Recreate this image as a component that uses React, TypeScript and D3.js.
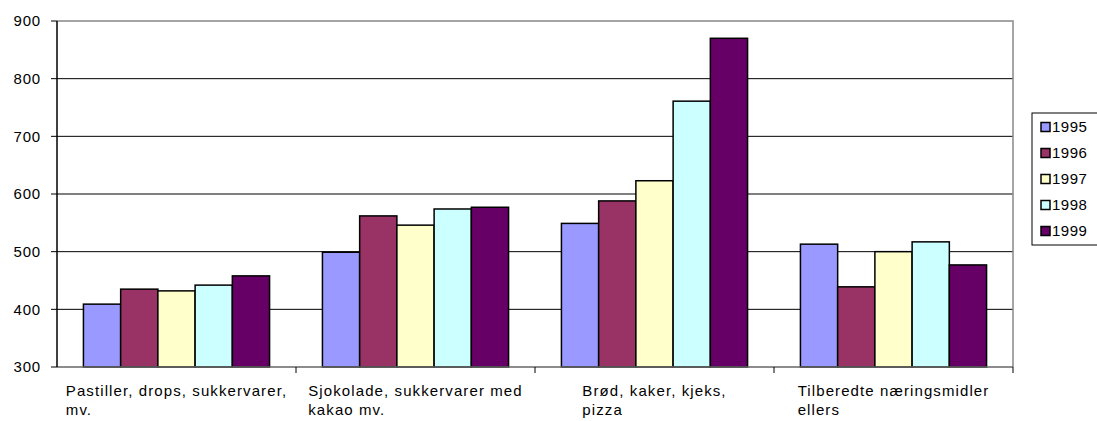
import React, { useEffect, useRef } from "react";
import * as d3 from "d3";

const categoryLines: string[][] = [
  ["Pastiller, drops, sukkervarer,", "mv."],
  ["Sjokolade, sukkervarer med", "kakao mv."],
  ["Brød, kaker, kjeks,", "pizza"],
  ["Tilberedte næringsmidler", "ellers"],
];
const categories = ["Pastiller", "Sjokolade", "Brød", "Tilberedte"];
const years = ["1995", "1996", "1997", "1998", "1999"];
const v1995 = [409, 499, 549, 513];
const v1996 = [435, 562, 588, 439];
const v1997 = [432, 546, 623, 500];
const v1998 = [442, 574, 761, 517];
const v1999 = [458, 577, 870, 477];
const seriesValues = [v1995, v1996, v1997, v1998, v1999];
const yTicks = [300, 400, 500, 600, 700, 800, 900];
const colors = ["#9999FF", "#993366", "#FFFFCC", "#CCFFFF", "#660066"];

export default function App() {
  const ref = useRef<SVGSVGElement>(null);
  useEffect(() => {
    const svg = d3.select(ref.current);
    svg.selectAll("*").remove();
    const left = 57, right = 1013, top = 21, bottom = 367;
    const font = "'Liberation Sans', Arial, sans-serif";
    const y = d3.scaleLinear().domain([300, 900]).range([bottom, top]);
    const x0 = d3.scaleBand<string>().domain(categories).range([left, right]);
    const x1 = d3.scaleBand<string>().domain(years).range([0, x0.bandwidth()]).paddingOuter(0.71);

    // gridlines
    svg.append("g").selectAll("line").data(yTicks.filter(t => t > 300 && t < 900)).join("line")
      .attr("x1", left).attr("x2", right).attr("y1", d => y(d)).attr("y2", d => y(d))
      .attr("stroke", "#000").attr("stroke-width", 1);
    // plot border (top/right)
    svg.append("path").attr("d", `M${left},${y(900)}H${right}V${bottom}`)
      .attr("fill", "none").attr("stroke", "#888").attr("stroke-width", 1.5);

    // bars
    const g = svg.append("g");
    seriesValues.forEach((vals, si) => {
      g.append("g").selectAll("rect").data(vals).join("rect")
        .attr("x", (d, i) => (x0(categories[i]) as number) + (x1(years[si]) as number))
        .attr("width", x1.bandwidth())
        .attr("y", d => y(d))
        .attr("height", d => bottom - y(d))
        .attr("fill", colors[si])
        .attr("stroke", "#000").attr("stroke-width", 1.5);
    });

    // x axis
    svg.append("line").attr("x1", left).attr("x2", right).attr("y1", bottom).attr("y2", bottom)
      .attr("stroke", "#666").attr("stroke-width", 1.5);
    svg.append("g").selectAll("line").data(categories.slice(1).concat(["end"])).join("line")
      .attr("x1", (d, i) => left + x0.step() * (i + 1)).attr("x2", (d, i) => left + x0.step() * (i + 1))
      .attr("y1", bottom).attr("y2", bottom + 6).attr("stroke", "#000").attr("stroke-width", 1);
    // y axis
    svg.append("line").attr("x1", left).attr("x2", left).attr("y1", top).attr("y2", bottom)
      .attr("stroke", "#000").attr("stroke-width", 1.5);
    svg.append("g").selectAll("line").data(yTicks).join("line")
      .attr("x1", left - 6).attr("x2", left).attr("y1", d => y(d)).attr("y2", d => y(d))
      .attr("stroke", "#000").attr("stroke-width", 1);
    svg.append("g").selectAll("text").data(yTicks).join("text")
      .attr("x", 41).attr("y", d => y(d)).attr("dy", "0.36em")
      .attr("text-anchor", "end").attr("font-family", font).attr("font-size", 15)
      .attr("letter-spacing", 0.8)
      .text(d => String(d));

    // category labels
    categoryLines.forEach((lines, ci) => {
      const cx = (x0(categories[ci]) as number) + x0.bandwidth() / 2;
      const tg = svg.append("g");
      const texts = lines.map((l, li) =>
        tg.append("text").attr("y", 396 + li * 19).attr("font-family", font).attr("font-size", 15)
          .attr("letter-spacing", 1.1).text(l));
      const w = Math.max(...texts.map(t => (t.node() as SVGTextElement).getComputedTextLength()));
      texts.forEach(t => t.attr("x", cx - w / 2));
    });

    // legend
    const lg = svg.append("g");
    lg.append("rect").attr("x", 1032).attr("y", 113).attr("width", 80).attr("height", 132)
      .attr("fill", "#fff").attr("stroke", "#000").attr("stroke-width", 1);
    years.forEach((yr, i) => {
      const cy = 127 + i * 26;
      lg.append("rect").attr("x", 1041).attr("y", cy - 4.5).attr("width", 9).attr("height", 9)
        .attr("fill", colors[i]).attr("stroke", "#000").attr("stroke-width", 1.5);
      lg.append("text").attr("x", 1052).attr("y", cy).attr("dy", "0.36em")
        .attr("font-family", font).attr("font-size", 15).attr("letter-spacing", 0.5).text(yr);
    });
  }, []);
  return (
    <svg ref={ref} width={1097} height={421}
      style={{ position: "absolute", left: 0, top: 0, background: "#fff" }} />
  );
}
